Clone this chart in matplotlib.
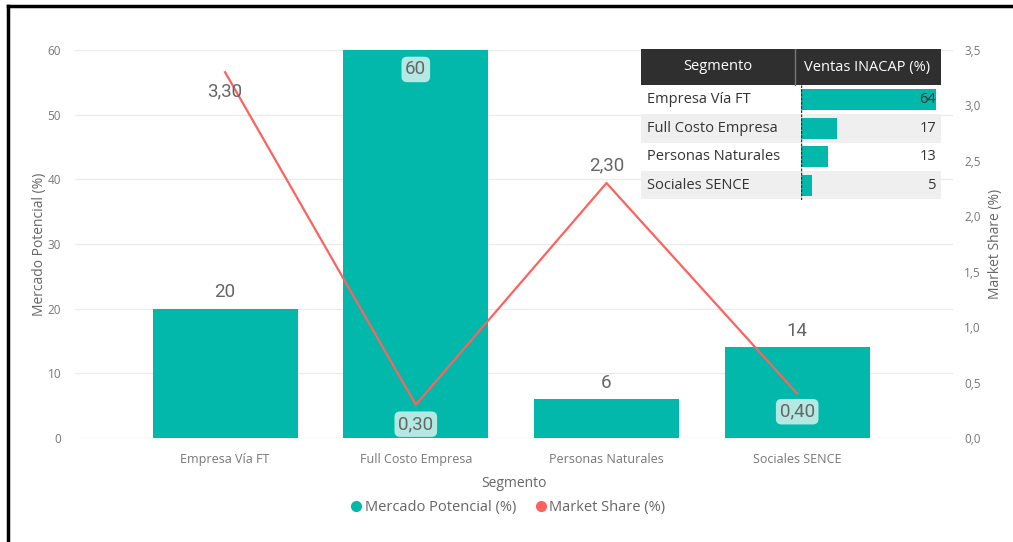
import numpy as np
import matplotlib.pyplot as plt
from matplotlib.lines import Line2D
from matplotlib.patches import Rectangle

segmentos = ["Empresa Vía FT", "Full Costo Empresa", "Personas Naturales", "Sociales SENCE"]
mercado = [20, 60, 6, 14]
share = [3.30, 0.30, 2.30, 0.40]
ventas = [64, 17, 13, 5]

teal = "#01B8AA"
red = "#FD625E"
grey = "#666666"
lbl_box = dict(boxstyle="round,pad=0.2,rounding_size=0.3", fc="#b3e8e3", ec="none")

plt.rcParams['font.family'] = ['Open Sans', 'DejaVu Sans']

W, H = 1013, 542
fig = plt.figure(figsize=(W / 100, H / 100), dpi=100)


def box(x0, y0, x1, y1):
    return [x0 / W, 1 - y1 / H, (x1 - x0) / W, (y1 - y0) / H]


ax = fig.add_axes(box(75, 50, 953, 438))
x = np.arange(len(segmentos))
bars = ax.bar(x, mercado, width=0.76, color=teal, zorder=2)
ax.set_xlim(-0.787, 3.817)
ax.set_ylim(0, 60)
ax.set_yticks(range(0, 61, 10))
ax.grid(axis="y", color="#ebebeb", lw=1, zorder=0)
ax.set_axisbelow(True)
for s in ax.spines.values():
    s.set_visible(False)
ax.tick_params(length=0, colors="#777777", labelsize=8.5)
ax.tick_params(axis="y", pad=10)
ax.tick_params(axis="x", pad=11, labelsize=9)
ax.set_xticks(x)
ax.set_xticklabels(segmentos)
ax.set_xlabel("Segmento", color=grey, fontsize=10, labelpad=7)
ax.set_ylabel("Mercado Potencial (%)", color=grey, fontsize=10, labelpad=0)

for xi, v in zip(x, mercado):
    if v >= 60:
        ax.annotate(f"{v}", (xi, v), xytext=(0, -14), textcoords="offset points",
                    ha="center", va="center", fontsize=13.5, color=grey,
                    family="Roboto", bbox=lbl_box, zorder=5)
    else:
        ax.annotate(f"{v}", (xi, v), xytext=(0, 12), textcoords="offset points",
                    ha="center", va="center", fontsize=13.5, color=grey,
                    family="Roboto", zorder=5)

ax2 = ax.twinx()
ax2.plot(x, share, color=red, lw=1.6, zorder=3)
ax2.set_ylim(0, 3.5)
ax2.set_yticks(np.arange(0, 3.51, 0.5))
ax2.set_yticklabels([f"{t:.1f}".replace(".", ",") for t in np.arange(0, 3.51, 0.5)])
for s in ax2.spines.values():
    s.set_visible(False)
ax2.tick_params(length=0, colors="#777777", labelsize=8.5, pad=8)
ax2.set_ylabel("Market Share (%)", color=grey, fontsize=10, labelpad=5)

offsets = [-14, -14, 13, -13]
for xi, v, off in zip(x, share, offsets):
    txt = f"{v:.2f}".replace(".", ",")
    kw = dict(bbox=lbl_box) if v < 1 else {}
    ax2.annotate(txt, (xi, v), xytext=(0, off), textcoords="offset points",
                 ha="center", va="center", fontsize=13.5, color=grey,
                 family="Roboto", zorder=5, **kw)

# legend
fig.legend(handles=[
    Line2D([], [], marker="o", ls="none", color=teal, markersize=7),
    Line2D([], [], marker="o", ls="none", color=red, markersize=7)],
    labels=["Mercado Potencial (%)", "Market Share (%)"],
    loc="center", bbox_to_anchor=(507 / W, 1 - 508 / H), ncol=2, frameon=False,
    fontsize=10.5, labelcolor=grey, handletextpad=0.1, columnspacing=1.2,
    handlelength=1.0)

# table
tab = fig.add_axes(box(641, 49, 941, 199))
tab.set_xlim(0, 300)
tab.set_ylim(150, 0)
tab.axis("off")
tab.add_patch(Rectangle((0, 0), 300, 36, fc="#2f2f2f", ec="none"))
tab.plot([154, 154], [0, 36], color="#777777", lw=1)
tab.text(77, 18, "Segmento", color="white", ha="center", va="center", fontsize=10.5)
tab.text(226, 18, "Ventas INACAP (%)", color="white", ha="center", va="center", fontsize=10.5)
row_h = 28.5
for i, seg in enumerate(segmentos):
    y0 = 36.5 + i * row_h
    if i % 2 == 1:
        tab.add_patch(Rectangle((0, y0), 300, row_h, fc="#efefef", ec="none"))
    tab.text(6, y0 + row_h / 2, seg, color="#333333", ha="left", va="center", fontsize=10.5)

bar_ax = fig.add_axes(box(801, 85.5, 936, 199.5))
bar_ax.barh(np.arange(len(ventas)), ventas, height=0.72, color=teal)
bar_ax.set_xlim(0, max(ventas))
bar_ax.set_ylim(len(ventas) - 0.5, -0.5)
bar_ax.axis("off")
bar_ax.axvline(0, color="#333333", lw=1, ls=(0, (2, 1)))
for i, v in enumerate(ventas):
    bar_ax.text(max(ventas), i, f"{v}", ha="right", va="center", fontsize=10.5, color="#333333")

# frame lines
fig.add_artist(Line2D([8 / W, 1], [1 - 6 / H, 1 - 6 / H], color="black", lw=2.5))
fig.add_artist(Line2D([8 / W, 8 / W], [0, 1 - 6 / H], color="black", lw=2.5))

fig.savefig("out.png", dpi=100)
